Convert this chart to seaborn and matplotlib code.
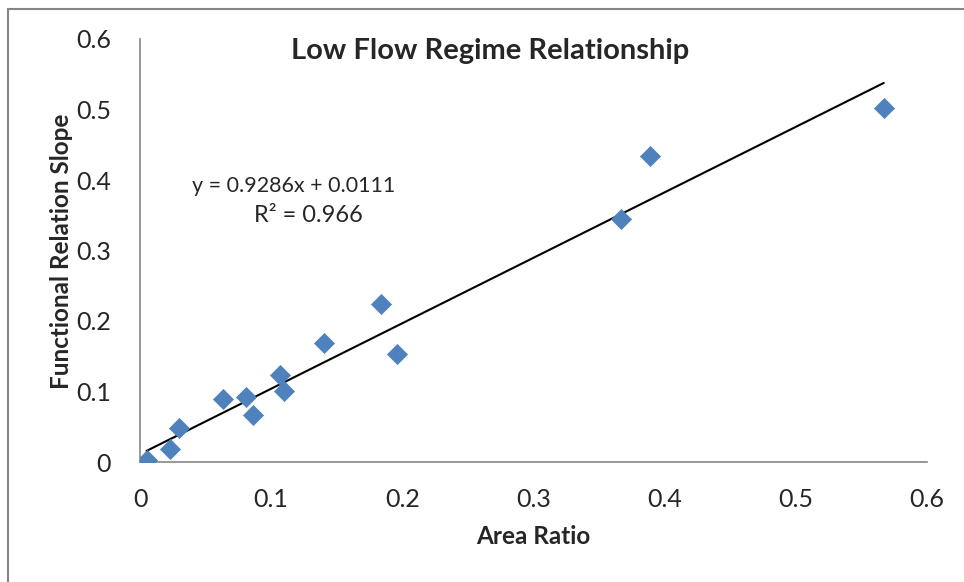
import seaborn as sns
import pandas as pd
import numpy as np
import matplotlib.pyplot as plt
from matplotlib.patches import Rectangle

area_ratio = [0.005, 0.023, 0.030, 0.063, 0.081, 0.086, 0.107, 0.110,
              0.140, 0.184, 0.196, 0.367, 0.389, 0.567]
func_slope = [0.003, 0.018, 0.048, 0.090, 0.092, 0.066, 0.123, 0.101,
              0.169, 0.224, 0.153, 0.345, 0.434, 0.502]
fit_slope = 0.9286
fit_intercept = 0.0111
ticks = [0, 0.1, 0.2, 0.3, 0.4, 0.5, 0.6]

df = pd.DataFrame({"Area Ratio": area_ratio, "Functional Relation Slope": func_slope})

sns.set_style("white")
plt.rcParams['font.family'] = ['Lato', 'DejaVu Sans']

fig = plt.figure(figsize=(9.64, 5.82), dpi=100)
ax = fig.add_axes([140/964, 1 - 462/582, 787/964, 423/582])

# trendline
xs = np.array([min(area_ratio), max(area_ratio)])
ax.plot(xs, fit_slope * xs + fit_intercept, color="black", lw=1.5, zorder=2)

sns.scatterplot(data=df, x="Area Ratio", y="Functional Relation Slope", marker="D",
                s=105, color="#4F81BD", edgecolor="#4F81BD", linewidth=0.5, ax=ax, zorder=3)

ax.set_xlim(0, 0.6)
ax.set_ylim(0, 0.6)
ax.set_xticks(ticks)
ax.set_yticks(ticks)
ax.set_xticklabels(["0" if t == 0 else str(t) for t in ticks])
ax.set_yticklabels(["0" if t == 0 else str(t) for t in ticks])
ax.tick_params(axis="both", labelsize=18, length=7, width=1.2, color="#868686", direction="out")
ax.tick_params(axis="x", pad=12)
ax.tick_params(axis="y", pad=14)
for s in ["top", "right"]:
    ax.spines[s].set_visible(False)
for s in ["left", "bottom"]:
    ax.spines[s].set_color("#868686")
    ax.spines[s].set_linewidth(1.2)

ax.set_xlabel("")
ax.set_ylabel("")
fig.text(533/964, 1 - 537/582, "Area Ratio", fontsize=17.5, fontweight="bold", ha="center", va="center")
fig.text(62/964, 1 - 251/582, "Functional Relation Slope", fontsize=17.5, fontweight="bold",
         rotation=90, ha="center", va="center")

fig.text(490/964, 1 - 51/582, "Low Flow Regime Relationship", fontsize=21, fontweight="bold",
         ha="center", va="center")
fig.text(294/964, 1 - 186/582, "y = 0.9286x + 0.0111", fontsize=15.5, ha="center", va="center")
fig.text(308/964, 1 - 216/582, "R² = 0.966", fontsize=17, ha="center", va="center")

# outer chart border
fig.patches.append(Rectangle((8/964, -0.1), 1.2, 1.1 - 9/582, transform=fig.transFigure,
                             fill=False, edgecolor="#868686", lw=1.5))

fig.savefig("out.png", dpi=100)
